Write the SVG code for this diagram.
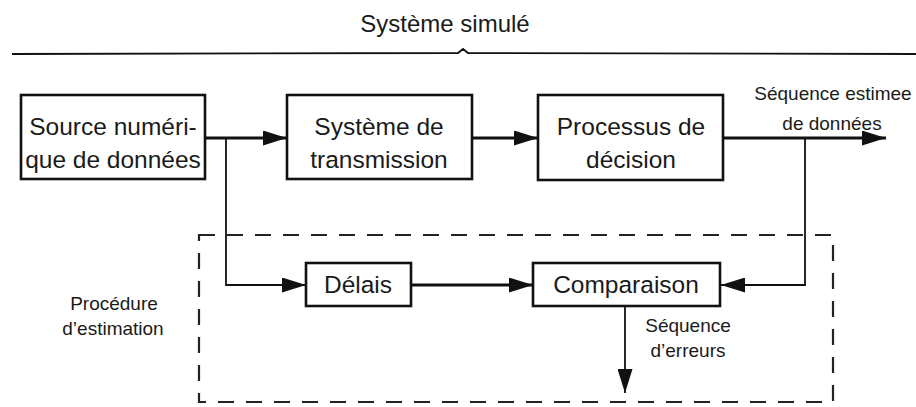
<svg xmlns="http://www.w3.org/2000/svg" width="916" height="407" viewBox="0 0 916 407">
<style>
text{font-family:"Liberation Sans",Arial,sans-serif;fill:#1a1a1a;}
.box{fill:#fff;stroke:#111;stroke-width:2.6;}
.big{font-size:24.5px;text-anchor:middle;}
.small{font-size:19px;text-anchor:middle;}
.ln{fill:none;stroke:#111;stroke-width:2.8;}
.thin{fill:none;stroke:#111;stroke-width:1.8;}
.dash{fill:none;stroke:#222;stroke-width:2.2;stroke-dasharray:16 12;}
</style>
<defs>
<marker id="ahb" markerWidth="24" markerHeight="15" refX="24" refY="7.5" orient="auto" markerUnits="userSpaceOnUse" viewBox="0 0 24 15">
<path d="M0,0 L24,7.5 L0,15 z" fill="#111"/>
</marker>
</defs>
<rect width="916" height="407" fill="#fff"/>
<text x="445" y="32" style="font-size:24px;text-anchor:middle">Système simulé</text>
<path class="thin" d="M12,54 L458,53 L463,49 L468,53 L916,54"/>
<g id="connectors">
<path class="ln" d="M205,138 L287,138" marker-end="url(#ahb)"/>
<path class="ln" d="M472,138 L538,138" marker-end="url(#ahb)"/>
<path class="ln" d="M723,138 L886,138" marker-end="url(#ahb)"/>
<path class="thin" d="M226,138 L226,285 L306,285" marker-end="url(#ahb)"/>
<path class="ln" d="M411,285 L533,285" marker-end="url(#ahb)"/>
<path class="thin" d="M805,138 L805,285 L721,285" marker-end="url(#ahb)"/>
<path class="thin" d="M625,306 L625,393" marker-end="url(#ahb)"/>
</g>
<rect id="estimation" class="dash" x="199" y="235" width="634" height="167"/>
<g id="source"><rect class="box" x="21" y="95" width="184" height="84"/>
<text class="big" x="113" y="135">Source numéri-</text><text class="big" x="113" y="168">que de données</text></g>
<g id="transmission"><rect class="box" x="287" y="95" width="185" height="84"/>
<text class="big" x="379" y="135">Système de</text><text class="big" x="379" y="168">transmission</text></g>
<g id="decision"><rect class="box" x="538" y="95" width="185" height="85"/>
<text class="big" x="631" y="135">Processus de</text><text class="big" x="631" y="168">décision</text></g>
<g id="delais"><rect class="box" x="306" y="263" width="105" height="43"/>
<text class="big" x="358" y="293">Délais</text></g>
<g id="comparaison"><rect class="box" x="533" y="263" width="187" height="43"/>
<text class="big" x="626" y="293">Comparaison</text></g>
<g id="labels">
<text class="small" x="833" y="100">Séquence estimee</text>
<text class="small" x="832" y="130">de données</text>
<text class="small" x="114" y="310">Procédure</text>
<text class="small" x="113" y="335">d’estimation</text>
<text class="small" x="688" y="332">Séquence</text>
<text class="small" x="688" y="357">d’erreurs</text>
</g>
</svg>
